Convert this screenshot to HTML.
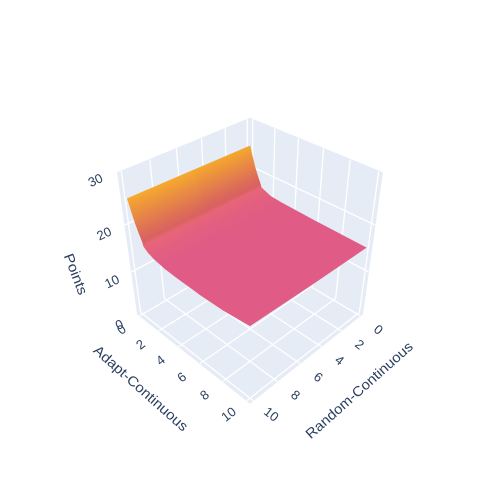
<!DOCTYPE html>
<html>
<head>
<meta charset="utf-8">
<style>
html,body{margin:0;padding:0;background:#fff;}
svg{display:block;}
text{font-family:"Liberation Sans",sans-serif;fill:#2a3f5f;}
</style>
</head>
<body>
<svg id="chart" xmlns="http://www.w3.org/2000/svg" width="500" height="500" viewBox="0 0 500 500">
  <defs id="gradients"></defs>
  <g id="walls"></g>
  <g id="grid"></g>
  <g id="surface"></g>
  <g id="ticks"></g>
  <text font-size="14" text-anchor="middle" textLength="121" lengthAdjust="spacingAndGlyphs" transform="translate(141,388) rotate(41.7) translate(0,5)">Adapt-Continuous</text>
  <text font-size="14" text-anchor="middle" textLength="138" lengthAdjust="spacingAndGlyphs" transform="translate(359,390) rotate(-41.6) translate(0,5)">Random-Continuous</text>
  <text font-size="14" text-anchor="middle" textLength="43" lengthAdjust="spacingAndGlyphs" transform="translate(76,274) rotate(69) translate(0,5)">Points</text>
</svg>
<script>
var adaptTicks = [0, 2, 4, 6, 8, 10];
var randomTicks = [0, 2, 4, 6, 8, 10];
var pointsTicks = [0, 10, 20, 30];
var adaptValues = [0, 0.25, 0.5, 0.75, 1, 1.1, 1.5, 2, 3, 4, 6, 8, 10];
var randomValues = [0, 5, 10];
var pointsAtRandom0 = [24.8, 22.6, 20.6, 19, 17.6, 16.9, 16.5, 16, 15.8, 15.7, 15.5, 15.4, 15.3];
var pointsAtRandom5 = [25, 22.8, 20.8, 19.2, 17.8, 17, 16.5, 15.9, 15.6, 15.4, 15.2, 15.2, 15.4];
var pointsAtRandom10 = [25.2, 23, 21, 19.4, 18, 17.1, 16.4, 15.9, 15.4, 15.2, 15, 15.1, 15.7];
var pointsByRandom = [pointsAtRandom0, pointsAtRandom5, pointsAtRandom10];

var NS = 'http://www.w3.org/2000/svg';
var wallsG = document.getElementById('walls');
var gridG = document.getElementById('grid');
var surfaceG = document.getElementById('surface');
var ticksG = document.getElementById('ticks');
var defsEl = document.getElementById('gradients');

function axisA(v) { return (v + 0.25) / 10.5; }
function axisR(v) { return (v + 0.25) / 10.5; }
function axisZ(v) { return v / 30; }

function project(a, r, z) {
  var d = 1 - 0.1307 * (a + r + z);
  return [250 + 97.8 * (a - r) / d, (248.3 + 24.7 * (a + r) - 145.5 * z) / d];
}
function pts(list) {
  return list.map(function (p) { return p[0].toFixed(2) + ',' + p[1].toFixed(2); }).join(' ');
}

var colorStops = [
  [14.5, [223, 90, 136]],
  [15.5, [224, 91, 133]],
  [16.3, [228, 96, 126]],
  [17.2, [232, 103, 120]],
  [17.4, [216, 97, 96]],
  [18.2, [216, 98, 94]],
  [20, [224, 118, 82]],
  [23, [236, 148, 60]],
  [25.2, [246, 170, 44]]
];
function colorFor(z) {
  var s = colorStops;
  if (z <= s[0][0]) return 'rgb(' + s[0][1].join(',') + ')';
  for (var i = 1; i < s.length; i++) {
    if (z <= s[i][0]) {
      var t = (z - s[i - 1][0]) / (s[i][0] - s[i - 1][0]);
      var c = [0, 1, 2].map(function (k) { return Math.round(s[i - 1][1][k] + t * (s[i][1][k] - s[i - 1][1][k])); });
      return 'rgb(' + c.join(',') + ')';
    }
  }
  return 'rgb(' + s[s.length - 1][1].join(',') + ')';
}

/* walls */
var wallA = [[0, 0, 0], [0, 1, 0], [0, 1, 1], [0, 0, 1]];
var wallR = [[0, 0, 0], [1, 0, 0], [1, 0, 1], [0, 0, 1]];
var wallFloor = [[0, 0, 0], [1, 0, 0], [1, 1, 0], [0, 1, 0]];
[wallA, wallR, wallFloor].forEach(function (w) {
  var el = document.createElementNS(NS, 'polygon');
  
  
  el.setAttribute('points', pts(w.map(function (c) { return project(c[0], c[1], c[2]); })));
  el.setAttribute('fill', '#e5ecf6');
  el.setAttribute('stroke', '#e5ecf6');
  el.setAttribute('stroke-width', '1');
  wallsG.appendChild(el);
});

/* grid */
function gridLine(p, q) {
  var el = document.createElementNS(NS, 'line');
  
  
  el.setAttribute('x1', p[0]);
  el.setAttribute('y1', p[1]);
  el.setAttribute('x2', q[0]);
  el.setAttribute('y2', q[1]);
  el.setAttribute('stroke', '#ffffff');
  el.setAttribute('stroke-width', '1.3');
  gridG.appendChild(el);
}
adaptTicks.forEach(function (v) {
  var a = axisA(v);
  gridLine(project(a, 0, 0), project(a, 1, 0));
  gridLine(project(a, 0, 0), project(a, 0, 1));
});
randomTicks.forEach(function (v) {
  var r = axisR(v);
  gridLine(project(0, r, 0), project(1, r, 0));
  gridLine(project(0, r, 0), project(0, r, 1));
});
pointsTicks.forEach(function (v) {
  if (v === 0 || v === 30) return;
  var z = axisZ(v);
  gridLine(project(0, 1, z), project(0, 0, z));
  gridLine(project(0, 0, z), project(1, 0, z));
});

/* surface */
var gradId = 0;
for (var i = 0; i < adaptValues.length - 1; i++) {
  for (var j = 0; j < randomValues.length - 1; j++) {
    var a0 = axisA(adaptValues[i]), a1 = axisA(adaptValues[i + 1]);
    var r0 = axisR(randomValues[j]), r1 = axisR(randomValues[j + 1]);
    var z00 = pointsByRandom[j][i], z01 = pointsByRandom[j + 1][i];
    var z10 = pointsByRandom[j][i + 1], z11 = pointsByRandom[j + 1][i + 1];
    var p00 = project(a0, r0, axisZ(z00)), p01 = project(a0, r1, axisZ(z01));
    var p10 = project(a1, r0, axisZ(z10)), p11 = project(a1, r1, axisZ(z11));
    var mA = [(p00[0] + p01[0]) / 2, (p00[1] + p01[1]) / 2];
    var mB = [(p10[0] + p11[0]) / 2, (p10[1] + p11[1]) / 2];
    var ex = p01[0] - p00[0], ey = p01[1] - p00[1];
    var elen = Math.sqrt(ex * ex + ey * ey);
    var nx = -ey / elen, ny = ex / elen;
    var dist = (mB[0] - mA[0]) * nx + (mB[1] - mA[1]) * ny;
    var grad = document.createElementNS(NS, 'linearGradient');
    var id = 'g' + (gradId++);
    grad.setAttribute('id', id);
    grad.setAttribute('gradientUnits', 'userSpaceOnUse');
    grad.setAttribute('x1', mA[0]);
    grad.setAttribute('y1', mA[1]);
    grad.setAttribute('x2', mA[0] + nx * dist);
    grad.setAttribute('y2', mA[1] + ny * dist);
    var s1 = document.createElementNS(NS, 'stop');
    s1.setAttribute('offset', '0');
    s1.setAttribute('stop-color', colorFor((z00 + z01) / 2));
    var s2 = document.createElementNS(NS, 'stop');
    s2.setAttribute('offset', '1');
    s2.setAttribute('stop-color', colorFor((z10 + z11) / 2));
    grad.appendChild(s1);
    grad.appendChild(s2);
    defsEl.appendChild(grad);
    var quad = document.createElementNS(NS, 'polygon');
    
    
    quad.setAttribute('points', pts([p00, p01, p11, p10]));
    quad.setAttribute('fill', 'url(#' + id + ')');
    quad.setAttribute('stroke', 'url(#' + id + ')');
    quad.setAttribute('stroke-width', '0.6');
    surfaceG.appendChild(quad);
  }
}

/* tick labels */
function tickLabel(p, label, rot, name) {
  var el = document.createElementNS(NS, 'text');
  
  
  el.setAttribute('font-size', '13');
  el.setAttribute('text-anchor', 'middle');
  el.setAttribute('transform', 'translate(' + p[0].toFixed(1) + ',' + p[1].toFixed(1) + ') rotate(' + rot + ') translate(0,4)');
  el.textContent = label;
  ticksG.appendChild(el);
}
adaptTicks.forEach(function (v) {
  var p = project(axisA(v), 1, 0);
  tickLabel([p[0] - 18, p[1] + 14], String(v), -38, 'adapt-tick-label');
});
randomTicks.forEach(function (v) {
  var p = project(1, axisR(v), 0);
  tickLabel([p[0] + 18, p[1] + 14], String(v), 38, 'random-tick-label');
});
pointsTicks.forEach(function (v) {
  var zn = axisZ(v);
  var p = project(0, 1, zn);
  tickLabel([p[0] - 18 - 4 * zn, p[1] + 11 - 3 * zn], String(v), -25, 'points-tick-label');
});
</script>
</body>
</html>
